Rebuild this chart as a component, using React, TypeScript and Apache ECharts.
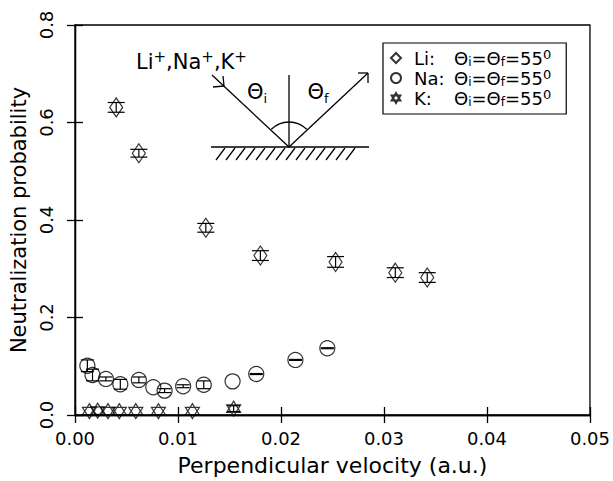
import React, { useEffect, useRef } from "react";
import * as echarts from "echarts";

// ---- data ----
const liX = [0.004, 0.0062, 0.0127, 0.018, 0.0253, 0.0311, 0.0342];
const liY = [0.631, 0.537, 0.384, 0.327, 0.314, 0.292, 0.282];
const liErr = [0.01, 0.008, 0.009, 0.01, 0.011, 0.01, 0.01];

const naX = [0.0012, 0.0017, 0.003, 0.0044, 0.0062, 0.0076, 0.0087, 0.0105, 0.0125, 0.0153, 0.0176, 0.0214, 0.0245];
const naY = [0.101, 0.082, 0.074, 0.063, 0.072, 0.057, 0.05, 0.059, 0.062, 0.069, 0.084, 0.113, 0.137];
const naErr = [0.012, 0.012, 0.004, 0.01, 0.006, 0, 0.004, 0.003, 0.008, 0, 0.001, 0.001, 0.001];

const kX = [0.0014, 0.0022, 0.0032, 0.0043, 0.0059, 0.0081, 0.0114, 0.0154];
const kY = [0.008, 0.009, 0.008, 0.008, 0.008, 0.008, 0.008, 0.013];
const kErr = [0, 0, 0, 0, 0, 0, 0, 0.006];

const seriesNames = ["Li", "Na", "K"];
const legendPrefix: Record<string, string> = { Li: "Li:", Na: "Na:", K: "K:" };

const xTicks = { min: 0, max: 0.05, interval: 0.01 };
const yTicks = { min: 0, max: 0.8, interval: 0.2 };

const FONT = '"DejaVu Sans", sans-serif';
const HEX = "path://M0,-1L0.866,0.5L-0.866,0.5Z M0,1L0.866,-0.5L-0.866,-0.5Z";

function errRender(halfW: number) {
  return (params: any, api: any) => {
    const x = api.value(0);
    const y = api.value(1);
    const e = api.value(2);
    if (!e) return { type: "group", children: [] };
    const c = api.coord([x, y]);
    const t = api.coord([x, y + e]);
    const b = api.coord([x, y - e]);
    const style = { stroke: "#000", lineWidth: 1.2 };
    return {
      type: "group",
      children: [
        { type: "line", shape: { x1: c[0], y1: t[1], x2: c[0], y2: b[1] }, style },
        { type: "line", shape: { x1: c[0] - halfW, y1: t[1], x2: c[0] + halfW, y2: t[1] }, style },
        { type: "line", shape: { x1: c[0] - halfW, y1: b[1], x2: c[0] + halfW, y2: b[1] }, style },
      ],
    };
  };
}

function buildGraphic() {
  const ls = { stroke: "#000", lineWidth: 1.3 };
  const els: any[] = [];
  const line = (x1: number, y1: number, x2: number, y2: number) =>
    els.push({ type: "line", shape: { x1, y1, x2, y2 }, style: ls, silent: true });
  // incoming ray
  line(212, 75, 289, 147);
  line(224, 86, 223, 76);
  line(224, 86, 213, 87);
  // outgoing ray
  line(289, 147, 368, 73);
  line(368, 73, 358, 73);
  line(368, 73, 368, 83);
  // normal
  line(289, 75, 289, 147);
  // surface
  line(211, 147, 369, 147);
  for (let i = 0; i < 14; i++) {
    const x = 225 + i * 10;
    line(x, 148, x - 9, 160);
  }
  els.push({
    type: "arc",
    shape: { cx: 289, cy: 147, r: 25, startAngle: (-3 * Math.PI) / 4, endAngle: -Math.PI / 4, clockwise: true },
    style: { stroke: "#000", lineWidth: 1.3, fill: null },
    silent: true,
  });
  const rich = {
    t: { fontSize: 21, fontFamily: FONT, color: "#000", lineHeight: 26 },
    s: { fontSize: 13, fontFamily: FONT, color: "#000", lineHeight: 14, verticalAlign: "bottom" },
    p: { fontSize: 15, fontFamily: FONT, color: "#000", lineHeight: 14, verticalAlign: "top" },
  };
  const txt = (x: number, y: number, text: string, align: string) =>
    els.push({
      type: "text",
      x,
      y,
      silent: true,
      style: { text, rich, align, verticalAlign: "middle", textAlign: align, textVerticalAlign: "middle" },
    });
  txt(136, 62, "{t|Li}{p|+}{t|,Na}{p|+}{t|,K}{p|+}", "left");
  txt(257, 92, "{t|Θ}{s|i}", "center");
  txt(318, 92, "{t|Θ}{s|f}", "center");
  return els;
}

export default function App() {
  const ref = useRef<HTMLDivElement>(null);
  useEffect(() => {
    if (!ref.current) return;
    const chart = echarts.init(ref.current, null, { renderer: "svg" });
    const axisLine = { show: true, lineStyle: { color: "#000", width: 1.3 } };
    const tick = { show: true, inside: true, length: 8, lineStyle: { color: "#000", width: 1.3 } };
    const itemStyle = { color: "rgba(0,0,0,0)", borderColor: "#000", borderWidth: 1.2 };
    const option: any = {
      animation: false,
      backgroundColor: "#fff",
      grid: { left: 75, right: 23, top: 25, bottom: 64, show: true, borderColor: "#000", borderWidth: 1.3 },
      legend: {
        data: seriesNames,
        orient: "vertical",
        left: 383,
        top: 43,
        itemWidth: 10,
        itemHeight: 10,
        itemGap: 0,
        padding: [5, 15, 6, 7],
        borderColor: "#000",
        borderWidth: 1.2,
        formatter: (name: string) => `{n|${legendPrefix[name]}}{t|Θ}{s|i}{t|=Θ}{s|f}{t|=55}{p|0}`,
        textStyle: {
          color: "#000",
          fontFamily: FONT,
          rich: {
            n: { fontSize: 18, fontFamily: FONT, color: "#000", width: 40, padding: [0, 0, 0, 8], lineHeight: 20 },
            t: { fontSize: 18, fontFamily: FONT, color: "#000", lineHeight: 20 },
            s: { fontSize: 12, fontFamily: FONT, color: "#000", lineHeight: 12, verticalAlign: "bottom" },
            p: { fontSize: 13, fontFamily: FONT, color: "#000", lineHeight: 12, verticalAlign: "top" },
          },
        },
      },
      xAxis: [
        {
          type: "value",
          ...xTicks,
          position: "bottom",
          axisLine,
          axisTick: tick,
          splitLine: { show: false },
          axisLabel: {
            formatter: (v: number) => v.toFixed(2),
            fontSize: 18,
            fontFamily: FONT,
            color: "#000",
            margin: 14,
          },
          name: "Perpendicular velocity (a.u.)",
          nameLocation: "middle",
          nameGap: 39,
          nameTextStyle: { fontSize: 22, fontFamily: FONT, color: "#000" },
        },
        {
          type: "value",
          ...xTicks,
          position: "top",
          axisLine,
          axisTick: tick,
          splitLine: { show: false },
          axisLabel: { show: false },
        },
      ],
      yAxis: [
        {
          type: "value",
          ...yTicks,
          position: "left",
          axisLine,
          axisTick: tick,
          splitLine: { show: false },
          axisLabel: {
            formatter: (v: number) => v.toFixed(1),
            fontSize: 18,
            fontFamily: FONT,
            color: "#000",
            rotate: 90,
            margin: 20,
          },
          name: "Neutralization probability",
          nameLocation: "middle",
          nameGap: 43,
          nameTextStyle: { fontSize: 21, fontFamily: FONT, color: "#000" },
        },
        {
          type: "value",
          ...yTicks,
          position: "right",
          axisLine,
          axisTick: tick,
          splitLine: { show: false },
          axisLabel: { show: false },
        },
      ],
      series: [
        {
          name: "Li",
          type: "scatter",
          symbol: "diamond",
          symbolSize: [13, 19],
          itemStyle,
          data: liX.map((x, i) => [x, liY[i]]),
          z: 3,
        },
        {
          name: "Na",
          type: "scatter",
          symbol: "circle",
          symbolSize: 15,
          itemStyle,
          data: naX.map((x, i) => [x, naY[i]]),
          z: 3,
        },
        {
          name: "K",
          type: "scatter",
          symbol: HEX,
          symbolSize: [14, 15],
          itemStyle,
          data: kX.map((x, i) => [x, kY[i]]),
          z: 3,
        },
        {
          name: "Li err",
          type: "custom",
          renderItem: errRender(8.5),
          data: liX.map((x, i) => [x, liY[i], liErr[i]]),
          encode: { x: 0, y: 1 },
          silent: true,
          z: 4,
        },
        {
          name: "Na err",
          type: "custom",
          renderItem: errRender(6.5),
          data: naX.map((x, i) => [x, naY[i], naErr[i]]),
          encode: { x: 0, y: 1 },
          silent: true,
          z: 4,
        },
        {
          name: "K err",
          type: "custom",
          renderItem: errRender(6.5),
          data: kX.map((x, i) => [x, kY[i], kErr[i]]),
          encode: { x: 0, y: 1 },
          silent: true,
          z: 4,
        },
      ],
      graphic: buildGraphic(),
    };
    chart.setOption(option);
    return () => chart.dispose();
  }, []);
  return (
    <div
      ref={ref}
      style={{ position: "fixed", left: 0, top: 0, width: 613, height: 481, background: "#fff" }}
    />
  );
}
